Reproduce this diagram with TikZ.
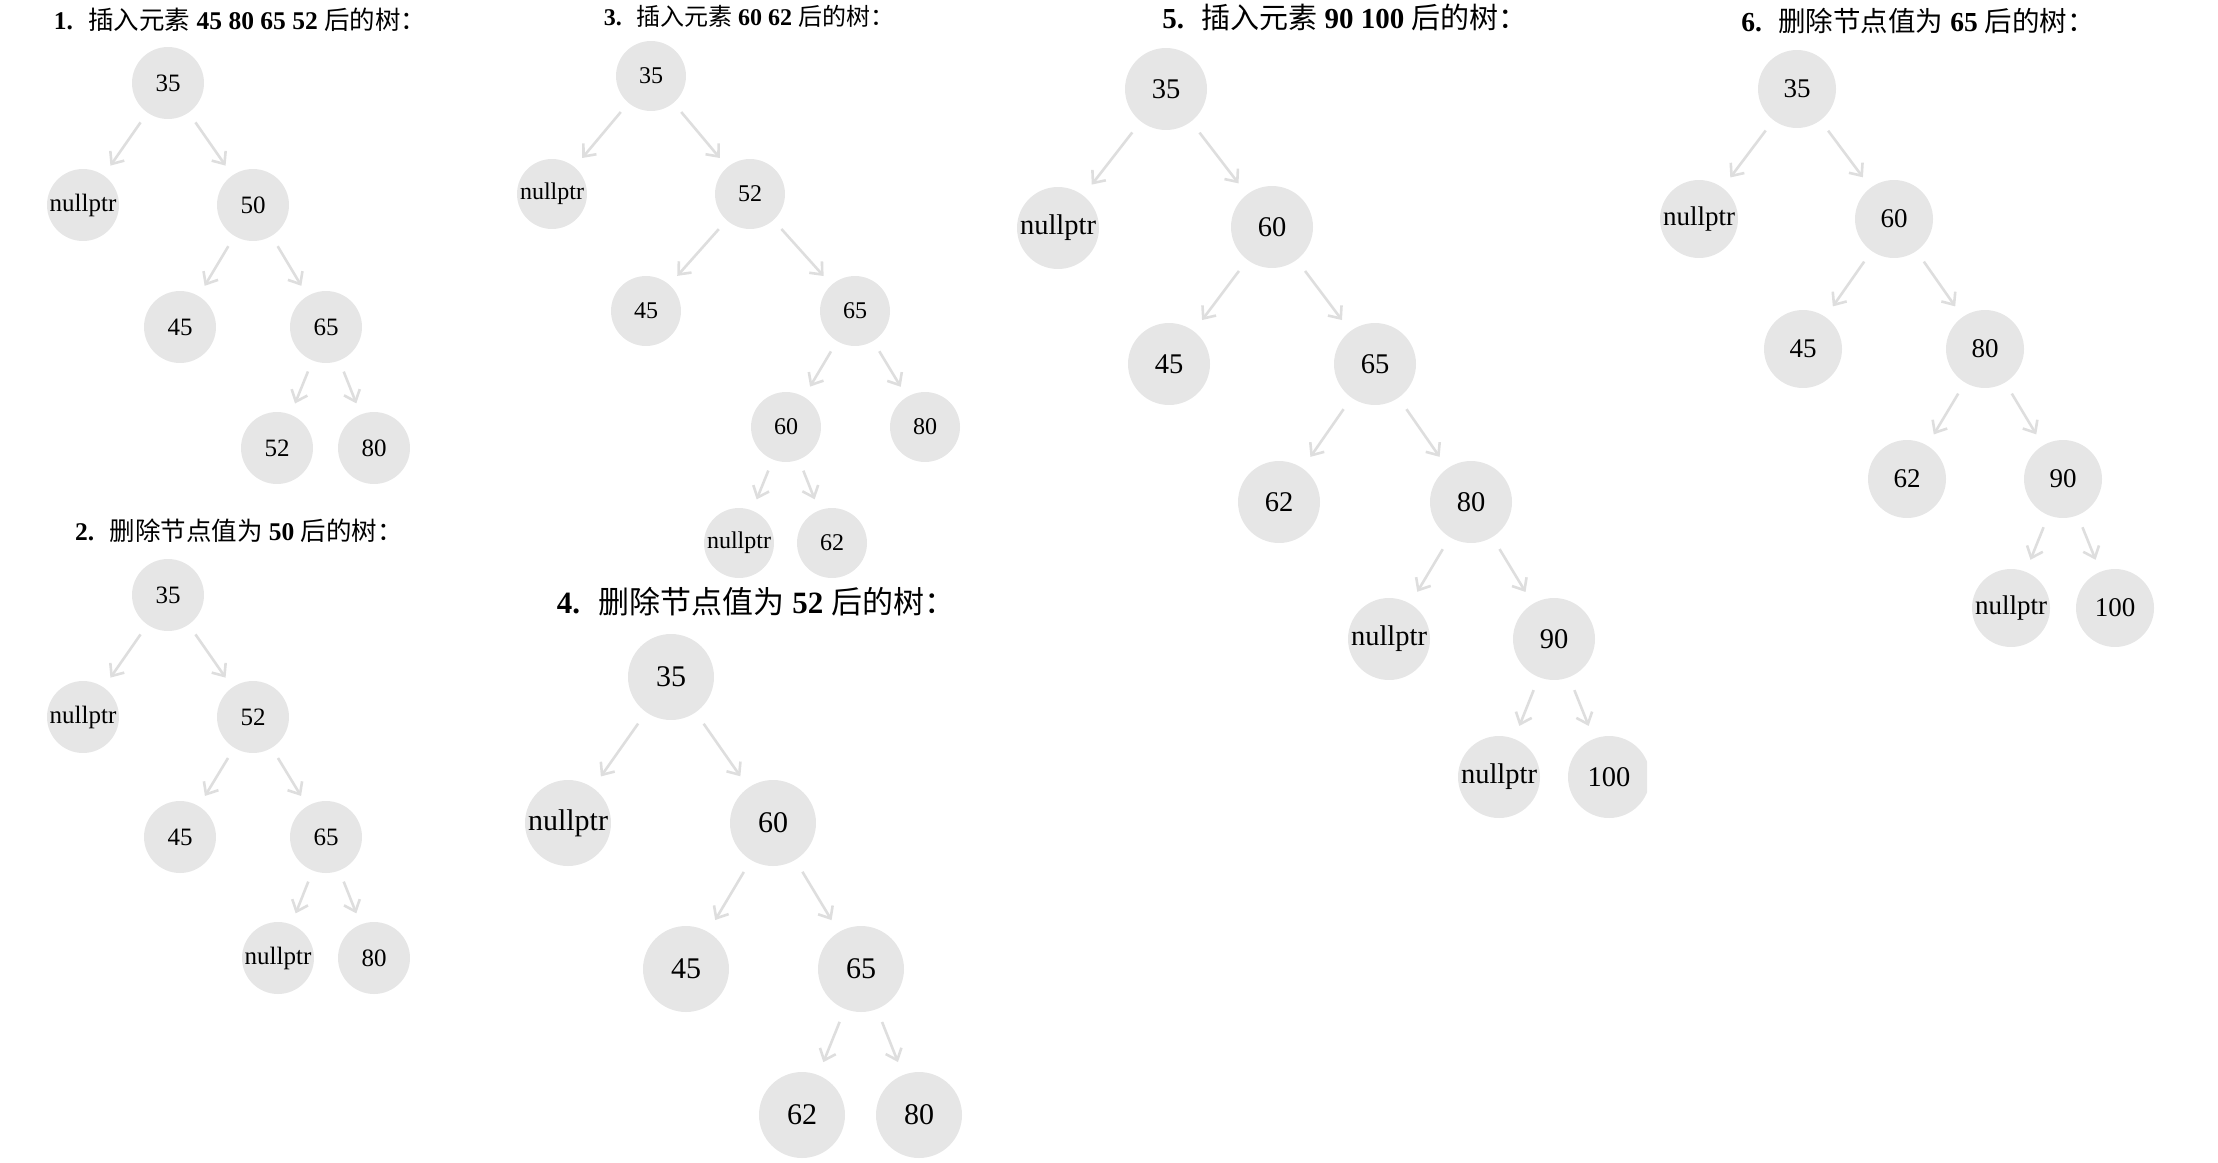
\documentclass[tikz,border=0pt]{standalone}
\usepackage{fontspec}
\setmainfont{Liberation Serif}
\newfontfamily\cjk{Noto Sans CJK SC}
\usetikzlibrary{arrows.meta}
\definecolor{nodegray}{RGB}{230,230,230}
\definecolor{edgegray}{RGB}{222,222,222}
\tikzset{
  nd/.style={circle, fill=nodegray, inner sep=0pt, text=black},
  ed/.style={draw=edgegray, line width=2.6pt, -{Straight Barb[length=10pt,width=17pt,line width=2.6pt]}},
  ttl/.style={inner sep=0pt, anchor=center, text=black},
}
\begin{document}
\begin{tikzpicture}[x=1pt,y=-1pt]
\useasboundingbox (0,0) rectangle (2218,1162);

% ---------- Tree 1 ----------
\node[ttl, font=\fontsize{25.5}{25.5}\selectfont] (t1) at (240,20)
  {\textbf{1.}\hspace{0.6em}{\cjk 插入元素}~\textbf{45 80 65 52}~{\cjk 后的树：}};
\begin{scope}[nd/.append style={minimum size=72pt, outer sep=12pt, font=\fontsize{25}{25}\selectfont}]
\node[nd] (a35) at (168,83) {35};
\node[nd] (anull) at (83,205) {nullptr};
\node[nd] (a50) at (253,205) {50};
\node[nd] (a45) at (180,327) {45};
\node[nd] (a65) at (326,327) {65};
\node[nd] (a52) at (277,448) {52};
\node[nd] (a80) at (374,448) {80};
\end{scope}
\draw[ed] (a35) -- (anull);
\draw[ed] (a35) -- (a50);
\draw[ed] (a50) -- (a45);
\draw[ed] (a50) -- (a65);
\draw[ed] (a65) -- (a52);
\draw[ed] (a65) -- (a80);

% ---------- Tree 2 ----------
\node[ttl, font=\fontsize{25.5}{25.5}\selectfont] (t2) at (239,531)
  {\textbf{2.}\hspace{0.6em}{\cjk 删除节点值为}~\textbf{50}~{\cjk 后的树：}};
\begin{scope}[nd/.append style={minimum size=72pt, outer sep=12pt, font=\fontsize{25}{25}\selectfont}]
\node[nd] (b35) at (168,595) {35};
\node[nd] (bnull) at (83,717) {nullptr};
\node[nd] (b52) at (253,717) {52};
\node[nd] (b45) at (180,837) {45};
\node[nd] (b65) at (326,837) {65};
\node[nd] (bnull2) at (278,958) {nullptr};
\node[nd] (b80) at (374,958) {80};
\end{scope}
\draw[ed] (b35) -- (bnull);
\draw[ed] (b35) -- (b52);
\draw[ed] (b52) -- (b45);
\draw[ed] (b52) -- (b65);
\draw[ed] (b65) -- (bnull2);
\draw[ed] (b65) -- (b80);

% ---------- Tree 3 ----------
\node[ttl, font=\fontsize{24}{24}\selectfont] (t3) at (749,16)
  {\textbf{3.}\hspace{0.6em}{\cjk 插入元素}~\textbf{60 62}~{\cjk 后的树：}};
\begin{scope}[nd/.append style={minimum size=70pt, outer sep=12pt, font=\fontsize{24}{24}\selectfont}]
\node[nd] (c35) at (651,76) {35};
\node[nd] (cnull) at (552,194) {nullptr};
\node[nd] (c52) at (750,194) {52};
\node[nd] (c45) at (646,311) {45};
\node[nd] (c65) at (855,311) {65};
\node[nd] (c60) at (786,427) {60};
\node[nd] (c80) at (925,427) {80};
\node[nd] (cnull2) at (739,543) {nullptr};
\node[nd] (c62) at (832,543) {62};
\end{scope}
\draw[ed] (c35) -- (cnull);
\draw[ed] (c35) -- (c52);
\draw[ed] (c52) -- (c45);
\draw[ed] (c52) -- (c65);
\draw[ed] (c65) -- (c60);
\draw[ed] (c65) -- (c80);
\draw[ed] (c60) -- (cnull2);
\draw[ed] (c60) -- (c62);

% ---------- Tree 4 ----------
\node[ttl, font=\fontsize{31}{31}\selectfont] (t4) at (756,602)
  {\textbf{4.}\hspace{0.6em}{\cjk 删除节点值为}~\textbf{52}~{\cjk 后的树：}};
\begin{scope}[nd/.append style={minimum size=86pt, outer sep=14pt, font=\fontsize{30}{30}\selectfont}]
\node[nd] (d35) at (671,677) {35};
\node[nd] (dnull) at (568,823) {nullptr};
\node[nd] (d60) at (773,823) {60};
\node[nd] (d45) at (686,969) {45};
\node[nd] (d65) at (861,969) {65};
\node[nd] (d62) at (802,1115) {62};
\node[nd] (d80) at (919,1115) {80};
\end{scope}
\draw[ed] (d35) -- (dnull);
\draw[ed] (d35) -- (d60);
\draw[ed] (d60) -- (d45);
\draw[ed] (d60) -- (d65);
\draw[ed] (d65) -- (d62);
\draw[ed] (d65) -- (d80);

% ---------- Tree 5 ----------
\node[ttl, font=\fontsize{29}{29}\selectfont] (t5) at (1345,17)
  {\textbf{5.}\hspace{0.6em}{\cjk 插入元素}~\textbf{90 100}~{\cjk 后的树：}};
\begin{scope}[nd/.append style={minimum size=82pt, outer sep=14pt, font=\fontsize{28.5}{28.5}\selectfont}]
\node[nd] (e35) at (1166,89) {35};
\node[nd] (enull) at (1058,228) {nullptr};
\node[nd] (e60) at (1272,227) {60};
\node[nd] (e45) at (1169,364) {45};
\node[nd] (e65) at (1375,364) {65};
\node[nd] (e62) at (1279,502) {62};
\node[nd] (e80) at (1471,502) {80};
\node[nd] (enull2) at (1389,639) {nullptr};
\node[nd] (e90) at (1554,639) {90};
\node[nd] (enull3) at (1499,777) {nullptr};
\begin{scope}
\clip (0,0) rectangle (1647,1162);
\node[nd] (e100) at (1609,777) {100};
\end{scope}
\end{scope}
\draw[ed] (e35) -- (enull);
\draw[ed] (e35) -- (e60);
\draw[ed] (e60) -- (e45);
\draw[ed] (e60) -- (e65);
\draw[ed] (e65) -- (e62);
\draw[ed] (e65) -- (e80);
\draw[ed] (e80) -- (enull2);
\draw[ed] (e80) -- (e90);
\draw[ed] (e90) -- (enull3);
\draw[ed] (e90) -- (e100);

% ---------- Tree 6 ----------
\node[ttl, font=\fontsize{27.5}{27.5}\selectfont] (t6) at (1918,21)
  {\textbf{6.}\hspace{0.6em}{\cjk 删除节点值为}~\textbf{65}~{\cjk 后的树：}};
\begin{scope}[nd/.append style={minimum size=78pt, outer sep=13pt, font=\fontsize{27}{27}\selectfont}]
\node[nd] (f35) at (1797,89) {35};
\node[nd] (fnull) at (1699,219) {nullptr};
\node[nd] (f60) at (1894,219) {60};
\node[nd] (f45) at (1803,349) {45};
\node[nd] (f80) at (1985,349) {80};
\node[nd] (f62) at (1907,479) {62};
\node[nd] (f90) at (2063,479) {90};
\node[nd] (fnull2) at (2011,608) {nullptr};
\node[nd] (f100) at (2115,608) {100};
\end{scope}
\draw[ed] (f35) -- (fnull);
\draw[ed] (f35) -- (f60);
\draw[ed] (f60) -- (f45);
\draw[ed] (f60) -- (f80);
\draw[ed] (f80) -- (f62);
\draw[ed] (f80) -- (f90);
\draw[ed] (f90) -- (fnull2);
\draw[ed] (f90) -- (f100);
\end{tikzpicture}
\end{document}
